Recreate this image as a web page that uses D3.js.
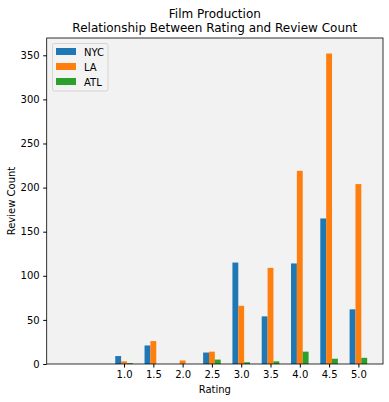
<!DOCTYPE html>
<html>
<head>
<meta charset="utf-8">
<script src="https://cdn.jsdelivr.net/npm/d3@7"></script>
<style>
  body { margin: 0; background: #fff; }
  svg { display: block; font-family: "DejaVu Sans", sans-serif; }
</style>
</head>
<body>
<svg id="chart" width="389" height="402"></svg>
<script>
// data
let ratings = [1.0, 1.5, 2.0, 2.5, 3.0, 3.5, 4.0, 4.5, 5.0];
let nyc = [9, 21, 0, 13, 115, 54, 114, 165, 62];
let la = [3, 26, 4, 14, 66, 109, 219, 352, 204];
let atl = [1, 0, 0, 5, 2, 3, 14, 6, 7];
let cities = ["NYC", "LA", "ATL"];
let yTicks = [0, 50, 100, 150, 200, 250, 300, 350];

let colors = ["#1f77b4", "#ff7f0e", "#2ca02c"];
let series = [nyc, la, atl];

let chart = d3.select("#chart");
let plotL = 46.7, plotR = 383, plotT = 38, plotB = 364;
let barW = 0.1;

let x = d3.scaleLinear().domain([-0.32, 5.42]).range([plotL, plotR]);
let y = d3.scaleLinear().domain([0, 369.6]).range([plotB, plotT]);

// axes background
chart.append("rect")
    .attr("x", plotL).attr("y", plotT)
    .attr("width", plotR - plotL).attr("height", plotB - plotT)
    .attr("fill", "#f2f2f2");

// bars, grouped around each rating
series.forEach(function(vals, i) {
    let off = (i - 1) * barW;
    chart.append("g").selectAll("rect")
        .data(ratings.map(function(r, j) { return {r: r, v: vals[j]}; }))
        .enter()
        .append("rect")
            .attr("x", function(d) { return x(d.r + off - barW / 2); })
            .attr("y", function(d) { return y(d.v); })
            .attr("width", function(d) { return x(d.r + off + barW / 2) - x(d.r + off - barW / 2); })
            .attr("height", function(d) { return plotB - y(d.v); })
            .attr("fill", colors[i]);
});

// x axis
let xAxis = chart.append("g")
    .attr("transform", "translate(0," + plotB + ")")
    .call(d3.axisBottom(x).tickValues(ratings).tickFormat(d3.format(".1f")).tickSizeOuter(0).tickSize(3.5).tickPadding(3.5));
xAxis.select(".domain").remove();
xAxis.selectAll("text").attr("font-size", "10px").attr("fill", "#000").attr("font-family", "DejaVu Sans");

// y axis
let yAxis = chart.append("g")
    .attr("transform", "translate(" + plotL + ",0)")
    .call(d3.axisLeft(y).tickValues(yTicks).tickSizeOuter(0).tickSize(3.5).tickPadding(3.5));
yAxis.select(".domain").remove();
yAxis.selectAll("text").attr("font-size", "10px").attr("fill", "#000").attr("font-family", "DejaVu Sans");

// spines
chart.append("rect")
    .attr("x", plotL).attr("y", plotT)
    .attr("width", plotR - plotL).attr("height", plotB - plotT)
    .attr("fill", "none").attr("stroke", "#000").attr("stroke-width", 0.8);

// titles
chart.append("text")
    .attr("x", (plotL + plotR) / 2).attr("y", 18)
    .attr("text-anchor", "middle").attr("font-size", "12px")
    .text("Film Production");
chart.append("text")
    .attr("x", (plotL + plotR) / 2).attr("y", 32)
    .attr("text-anchor", "middle").attr("font-size", "12px")
    .text("Relationship Between Rating and Review Count");

chart.append("text")
    .attr("x", (plotL + plotR) / 2).attr("y", 393)
    .attr("text-anchor", "middle").attr("font-size", "10px")
    .text("Rating");

chart.append("text")
    .attr("transform", "rotate(-90)")
    .attr("x", -(plotT + plotB) / 2).attr("y", 15)
    .attr("text-anchor", "middle").attr("font-size", "10px")
    .text("Review Count");

// legend
let lg = chart.append("g");
lg.append("rect")
    .attr("x", 52.5).attr("y", 43.5).attr("width", 55.5).attr("height", 47.5)
    .attr("rx", 2).attr("fill", "#f2f2f2").attr("fill-opacity", 0.8)
    .attr("stroke", "#cccccc").attr("stroke-width", 0.8);
cities.forEach(function(c, i) {
    lg.append("rect")
        .attr("x", 56).attr("y", 48 + i * 15)
        .attr("width", 20).attr("height", 7)
        .attr("fill", colors[i]);
    lg.append("text")
        .attr("x", 84).attr("y", 55.5 + i * 15)
        .attr("font-size", "10px")
        .text(c);
});
</script>
</body>
</html>
